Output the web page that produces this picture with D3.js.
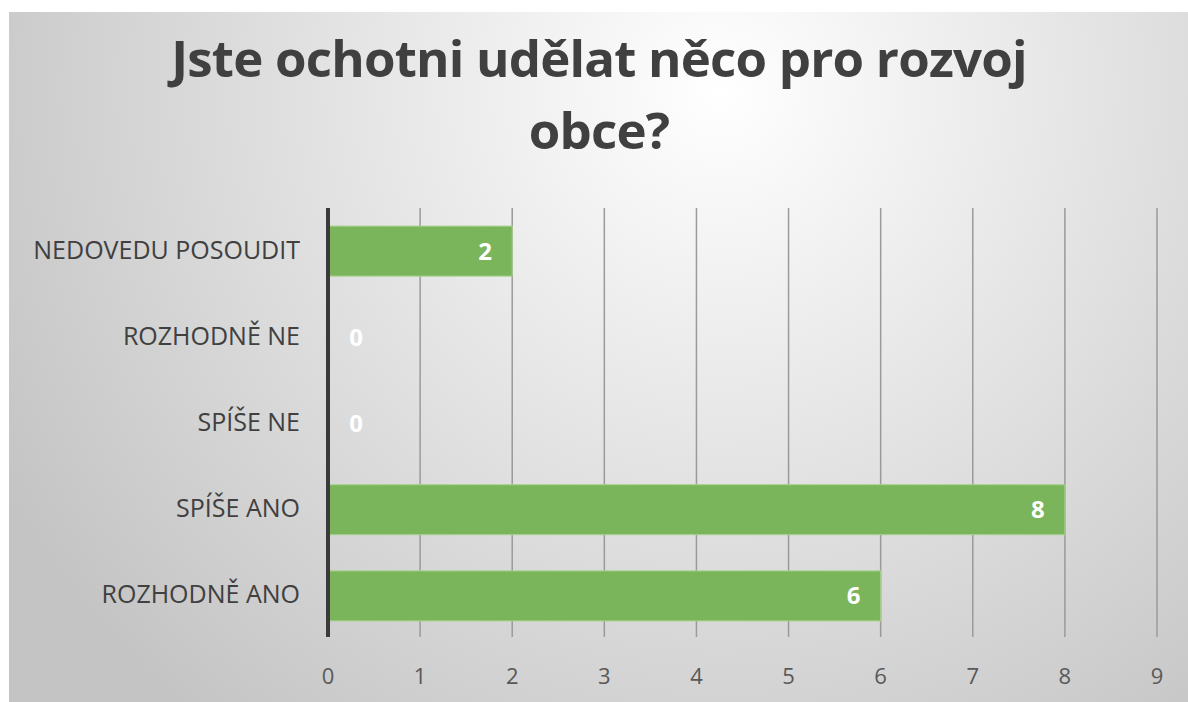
<!DOCTYPE html>
<html>
<head>
<meta charset="utf-8">
<script src="https://cdn.jsdelivr.net/npm/d3@7"></script>
<style>
  body { margin: 0; background: #fff; }
  svg { display: block; }
</style>
</head>
<body>
<div id="chart"></div>
<script>
// data
var categories = ["NEDOVEDU POSOUDIT", "ROZHODNĚ NE", "SPÍŠE NE", "SPÍŠE ANO", "ROZHODNĚ ANO"];
var values = [2, 0, 0, 8, 6];
var xTicks = [0, 1, 2, 3, 4, 5, 6, 7, 8, 9];
var titleLines = ["Jste ochotni udělat něco pro rozvoj", "obce?"];

var width = 1188, height = 702;
var margin = {top: 208, right: 31, bottom: 63, left: 328};

var svg = d3.select("#chart").append("svg")
    .attr("width", width).attr("height", height);

// fond en dégradé radial
var defs = svg.append("defs");
var grad = defs.append("radialGradient").attr("id", "bg")
    .attr("gradientUnits", "userSpaceOnUse")
    .attr("cx", 720).attr("cy", 90).attr("r", 820);
grad.append("stop").attr("offset", "0%").attr("stop-color", "#ffffff");
grad.append("stop").attr("offset", "100%").attr("stop-color", "#c4c4c4");

svg.append("rect")
    .attr("x", 9).attr("y", 12)
    .attr("width", width - 9).attr("height", height - 12)
    .attr("fill", "url(#bg)");

// titre
svg.append("g").selectAll("text").data(titleLines).enter().append("text")
    .attr("x", 599)
    .attr("y", (d, i) => 77 + i * 72)
    .attr("text-anchor", "middle")
    .style("font-family", "'Open Sans', sans-serif")
    .style("font-weight", "bold")
    .style("font-size", "51px")
    .style("letter-spacing", "-0.8px")
    .style("fill", "#404040")
    .text(d => d);

var x = d3.scaleLinear().domain([0, 9]).range([margin.left, width - margin.right]);
var y = d3.scaleBand().domain(categories)
    .range([margin.top, height - margin.bottom])
    .paddingInner(0.42).paddingOuter(0.21);

// grille
svg.append("g").selectAll("line").data(xTicks.slice(1)).enter().append("line")
    .attr("x1", d => x(d)).attr("x2", d => x(d))
    .attr("y1", margin.top).attr("y2", 637)
    .style("stroke", "#9a9a9a")
    .style("stroke-width", 1.5);

// barres
svg.append("g").selectAll("rect").data(values).enter().append("rect")
    .attr("x", x(0))
    .attr("y", (d, i) => y(categories[i]))
    .attr("width", d => x(d) - x(0))
    .attr("height", y.bandwidth())
    .style("fill", "#7ab45b")
    .style("stroke", "#a9d18e")
    .style("stroke-width", d => d > 0 ? 1 : 0);

// étiquettes des valeurs
svg.append("g").selectAll("text").data(values).enter().append("text")
    .attr("x", d => d > 0 ? x(d) - 27 : x(0) + 28)
    .attr("y", (d, i) => y(categories[i]) + y.bandwidth() / 2)
    .attr("dy", "0.35em")
    .attr("text-anchor", "middle")
    .style("font-family", "'Open Sans', sans-serif")
    .style("font-weight", "bold")
    .style("font-size", "24px")
    .style("fill", "#ffffff")
    .text(d => d);

// axe vertical
svg.append("line")
    .attr("x1", x(0)).attr("x2", x(0))
    .attr("y1", margin.top).attr("y2", 637)
    .style("stroke", "#3a3a3a")
    .style("stroke-width", 4);

// catégories
svg.append("g").selectAll("text").data(categories).enter().append("text")
    .attr("x", 300)
    .attr("y", d => y(d) + y.bandwidth() / 2)
    .attr("dy", "0.3em")
    .attr("text-anchor", "end")
    .style("font-family", "'Open Sans', sans-serif")
    .style("font-size", "25px")
    .style("fill", "#404040")
    .text(d => d);

// ticks de l'axe x
svg.append("g").selectAll("text").data(xTicks).enter().append("text")
    .attr("x", d => x(d))
    .attr("y", 684)
    .attr("text-anchor", "middle")
    .style("font-family", "'Open Sans', sans-serif")
    .style("font-size", "22px")
    .style("fill", "#595959")
    .text(d => d);
</script>
</body>
</html>
